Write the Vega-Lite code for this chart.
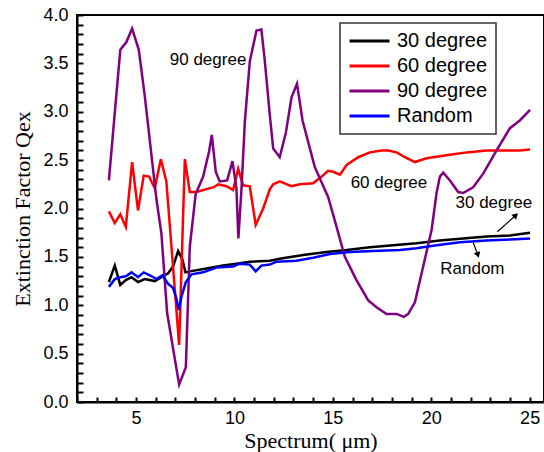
{
  "$schema": "https://vega.github.io/schema/vega-lite/v6.json",
  "width": 467,
  "height": 387,
  "autosize": {"type": "none"},
  "padding": {"left": 77, "top": 15, "right": 0, "bottom": 50},
  "background": "white",
  "config": {
    "view": {"stroke": "black", "strokeWidth": 2},
    "font": "Liberation Sans",
    "legend": {"strokeWidth": 1.5}
  },
  "datasets": {
    "series": [
      {"x": 3.62, "y": 1.24, "s": "30 degree"},
      {"x": 3.92, "y": 1.41, "s": "30 degree"},
      {"x": 4.2, "y": 1.21, "s": "30 degree"},
      {"x": 4.48, "y": 1.26, "s": "30 degree"},
      {"x": 4.77, "y": 1.29, "s": "30 degree"},
      {"x": 5.1, "y": 1.24, "s": "30 degree"},
      {"x": 5.44, "y": 1.27, "s": "30 degree"},
      {"x": 5.95, "y": 1.25, "s": "30 degree"},
      {"x": 6.29, "y": 1.29, "s": "30 degree"},
      {"x": 6.63, "y": 1.33, "s": "30 degree"},
      {"x": 6.88, "y": 1.4, "s": "30 degree"},
      {"x": 7.14, "y": 1.56, "s": "30 degree"},
      {"x": 7.36, "y": 1.47, "s": "30 degree"},
      {"x": 7.51, "y": 1.34, "s": "30 degree"},
      {"x": 7.73, "y": 1.35, "s": "30 degree"},
      {"x": 8.58, "y": 1.38, "s": "30 degree"},
      {"x": 9.42, "y": 1.41, "s": "30 degree"},
      {"x": 10.1, "y": 1.43, "s": "30 degree"},
      {"x": 10.78, "y": 1.45, "s": "30 degree"},
      {"x": 11.8, "y": 1.46, "s": "30 degree"},
      {"x": 12.3, "y": 1.48, "s": "30 degree"},
      {"x": 13.49, "y": 1.52, "s": "30 degree"},
      {"x": 14.68, "y": 1.55, "s": "30 degree"},
      {"x": 15.7, "y": 1.57, "s": "30 degree"},
      {"x": 16.88, "y": 1.6, "s": "30 degree"},
      {"x": 18.07, "y": 1.62, "s": "30 degree"},
      {"x": 19.25, "y": 1.64, "s": "30 degree"},
      {"x": 20.44, "y": 1.67, "s": "30 degree"},
      {"x": 21.62, "y": 1.69, "s": "30 degree"},
      {"x": 22.81, "y": 1.71, "s": "30 degree"},
      {"x": 24.0, "y": 1.72, "s": "30 degree"},
      {"x": 25.02, "y": 1.75, "s": "30 degree"},

      {"x": 3.62, "y": 1.97, "s": "60 degree"},
      {"x": 3.92, "y": 1.85, "s": "60 degree"},
      {"x": 4.2, "y": 1.94, "s": "60 degree"},
      {"x": 4.48, "y": 1.81, "s": "60 degree"},
      {"x": 4.8, "y": 2.48, "s": "60 degree"},
      {"x": 5.1, "y": 1.98, "s": "60 degree"},
      {"x": 5.39, "y": 2.34, "s": "60 degree"},
      {"x": 5.66, "y": 2.33, "s": "60 degree"},
      {"x": 5.95, "y": 2.21, "s": "60 degree"},
      {"x": 6.26, "y": 2.51, "s": "60 degree"},
      {"x": 6.54, "y": 2.28, "s": "60 degree"},
      {"x": 7.19, "y": 0.59, "s": "60 degree"},
      {"x": 7.48, "y": 2.51, "s": "60 degree"},
      {"x": 7.73, "y": 2.17, "s": "60 degree"},
      {"x": 8.07, "y": 2.17, "s": "60 degree"},
      {"x": 8.58, "y": 2.2, "s": "60 degree"},
      {"x": 8.95, "y": 2.22, "s": "60 degree"},
      {"x": 9.17, "y": 2.25, "s": "60 degree"},
      {"x": 9.6, "y": 2.23, "s": "60 degree"},
      {"x": 9.93, "y": 2.19, "s": "60 degree"},
      {"x": 10.19, "y": 2.41, "s": "60 degree"},
      {"x": 10.44, "y": 2.24, "s": "60 degree"},
      {"x": 10.78, "y": 2.23, "s": "60 degree"},
      {"x": 11.08, "y": 1.83, "s": "60 degree"},
      {"x": 11.46, "y": 2.0, "s": "60 degree"},
      {"x": 11.8, "y": 2.2, "s": "60 degree"},
      {"x": 11.97, "y": 2.25, "s": "60 degree"},
      {"x": 12.3, "y": 2.28, "s": "60 degree"},
      {"x": 12.9, "y": 2.23, "s": "60 degree"},
      {"x": 13.32, "y": 2.25, "s": "60 degree"},
      {"x": 14.0, "y": 2.26, "s": "60 degree"},
      {"x": 14.43, "y": 2.33, "s": "60 degree"},
      {"x": 14.76, "y": 2.39, "s": "60 degree"},
      {"x": 15.02, "y": 2.38, "s": "60 degree"},
      {"x": 15.36, "y": 2.35, "s": "60 degree"},
      {"x": 15.7, "y": 2.45, "s": "60 degree"},
      {"x": 16.29, "y": 2.53, "s": "60 degree"},
      {"x": 16.88, "y": 2.58, "s": "60 degree"},
      {"x": 17.48, "y": 2.6, "s": "60 degree"},
      {"x": 17.81, "y": 2.6, "s": "60 degree"},
      {"x": 18.24, "y": 2.58, "s": "60 degree"},
      {"x": 18.66, "y": 2.53, "s": "60 degree"},
      {"x": 19.17, "y": 2.48, "s": "60 degree"},
      {"x": 19.76, "y": 2.52, "s": "60 degree"},
      {"x": 20.44, "y": 2.54, "s": "60 degree"},
      {"x": 21.12, "y": 2.56, "s": "60 degree"},
      {"x": 21.8, "y": 2.58, "s": "60 degree"},
      {"x": 22.81, "y": 2.6, "s": "60 degree"},
      {"x": 23.83, "y": 2.6, "s": "60 degree"},
      {"x": 24.5, "y": 2.6, "s": "60 degree"},
      {"x": 25.02, "y": 2.61, "s": "60 degree"},

      {"x": 3.62, "y": 2.29, "s": "90 degree"},
      {"x": 4.2, "y": 3.64, "s": "90 degree"},
      {"x": 4.51, "y": 3.72, "s": "90 degree"},
      {"x": 4.8, "y": 3.86, "s": "90 degree"},
      {"x": 5.14, "y": 3.64, "s": "90 degree"},
      {"x": 5.44, "y": 3.17, "s": "90 degree"},
      {"x": 6.04, "y": 2.09, "s": "90 degree"},
      {"x": 6.29, "y": 1.74, "s": "90 degree"},
      {"x": 6.58, "y": 0.92, "s": "90 degree"},
      {"x": 7.19, "y": 0.18, "s": "90 degree"},
      {"x": 7.53, "y": 0.36, "s": "90 degree"},
      {"x": 7.73, "y": 1.6, "s": "90 degree"},
      {"x": 8.03, "y": 2.15, "s": "90 degree"},
      {"x": 8.41, "y": 2.33, "s": "90 degree"},
      {"x": 8.71, "y": 2.59, "s": "90 degree"},
      {"x": 8.85, "y": 2.76, "s": "90 degree"},
      {"x": 9.05, "y": 2.38, "s": "90 degree"},
      {"x": 9.25, "y": 2.28, "s": "90 degree"},
      {"x": 9.63, "y": 2.29, "s": "90 degree"},
      {"x": 9.9, "y": 2.49, "s": "90 degree"},
      {"x": 10.1, "y": 2.21, "s": "90 degree"},
      {"x": 10.2, "y": 1.69, "s": "90 degree"},
      {"x": 10.36, "y": 2.21, "s": "90 degree"},
      {"x": 10.53, "y": 2.9, "s": "90 degree"},
      {"x": 10.78, "y": 3.52, "s": "90 degree"},
      {"x": 11.12, "y": 3.84, "s": "90 degree"},
      {"x": 11.37, "y": 3.85, "s": "90 degree"},
      {"x": 11.54, "y": 3.53, "s": "90 degree"},
      {"x": 11.8, "y": 2.96, "s": "90 degree"},
      {"x": 11.97, "y": 2.62, "s": "90 degree"},
      {"x": 12.3, "y": 2.53, "s": "90 degree"},
      {"x": 12.61, "y": 2.78, "s": "90 degree"},
      {"x": 12.9, "y": 3.15, "s": "90 degree"},
      {"x": 13.18, "y": 3.29, "s": "90 degree"},
      {"x": 13.46, "y": 2.91, "s": "90 degree"},
      {"x": 14.08, "y": 2.43, "s": "90 degree"},
      {"x": 14.76, "y": 2.12, "s": "90 degree"},
      {"x": 15.19, "y": 1.81, "s": "90 degree"},
      {"x": 15.61, "y": 1.5, "s": "90 degree"},
      {"x": 16.2, "y": 1.26, "s": "90 degree"},
      {"x": 16.8, "y": 1.05, "s": "90 degree"},
      {"x": 17.22, "y": 0.98, "s": "90 degree"},
      {"x": 17.73, "y": 0.91, "s": "90 degree"},
      {"x": 18.24, "y": 0.91, "s": "90 degree"},
      {"x": 18.61, "y": 0.88, "s": "90 degree"},
      {"x": 18.83, "y": 0.91, "s": "90 degree"},
      {"x": 19.17, "y": 1.03, "s": "90 degree"},
      {"x": 19.59, "y": 1.4, "s": "90 degree"},
      {"x": 20.02, "y": 1.78, "s": "90 degree"},
      {"x": 20.27, "y": 2.16, "s": "90 degree"},
      {"x": 20.44, "y": 2.33, "s": "90 degree"},
      {"x": 20.61, "y": 2.37, "s": "90 degree"},
      {"x": 20.95, "y": 2.29, "s": "90 degree"},
      {"x": 21.37, "y": 2.17, "s": "90 degree"},
      {"x": 21.62, "y": 2.16, "s": "90 degree"},
      {"x": 22.13, "y": 2.22, "s": "90 degree"},
      {"x": 22.64, "y": 2.36, "s": "90 degree"},
      {"x": 23.32, "y": 2.6, "s": "90 degree"},
      {"x": 24.0, "y": 2.83, "s": "90 degree"},
      {"x": 24.5, "y": 2.91, "s": "90 degree"},
      {"x": 25.02, "y": 3.02, "s": "90 degree"},

      {"x": 3.62, "y": 1.19, "s": "Random"},
      {"x": 3.92, "y": 1.27, "s": "Random"},
      {"x": 4.2, "y": 1.29, "s": "Random"},
      {"x": 4.48, "y": 1.3, "s": "Random"},
      {"x": 4.77, "y": 1.34, "s": "Random"},
      {"x": 5.1, "y": 1.29, "s": "Random"},
      {"x": 5.39, "y": 1.34, "s": "Random"},
      {"x": 5.7, "y": 1.31, "s": "Random"},
      {"x": 6.04, "y": 1.27, "s": "Random"},
      {"x": 6.34, "y": 1.31, "s": "Random"},
      {"x": 6.63, "y": 1.22, "s": "Random"},
      {"x": 6.88, "y": 1.18, "s": "Random"},
      {"x": 7.05, "y": 1.07, "s": "Random"},
      {"x": 7.17, "y": 0.95, "s": "Random"},
      {"x": 7.31, "y": 1.09, "s": "Random"},
      {"x": 7.53, "y": 1.24, "s": "Random"},
      {"x": 7.82, "y": 1.32, "s": "Random"},
      {"x": 8.41, "y": 1.34, "s": "Random"},
      {"x": 9.09, "y": 1.39, "s": "Random"},
      {"x": 9.93, "y": 1.4, "s": "Random"},
      {"x": 10.27, "y": 1.43, "s": "Random"},
      {"x": 10.78, "y": 1.42, "s": "Random"},
      {"x": 11.08, "y": 1.35, "s": "Random"},
      {"x": 11.37, "y": 1.41, "s": "Random"},
      {"x": 11.8, "y": 1.42, "s": "Random"},
      {"x": 12.14, "y": 1.45, "s": "Random"},
      {"x": 13.15, "y": 1.46, "s": "Random"},
      {"x": 14.0, "y": 1.49, "s": "Random"},
      {"x": 14.85, "y": 1.53, "s": "Random"},
      {"x": 15.87, "y": 1.55, "s": "Random"},
      {"x": 17.05, "y": 1.56, "s": "Random"},
      {"x": 18.41, "y": 1.57, "s": "Random"},
      {"x": 19.25, "y": 1.59, "s": "Random"},
      {"x": 20.27, "y": 1.62, "s": "Random"},
      {"x": 21.46, "y": 1.65, "s": "Random"},
      {"x": 22.81, "y": 1.67, "s": "Random"},
      {"x": 24.0, "y": 1.68, "s": "Random"},
      {"x": 25.02, "y": 1.69, "s": "Random"}
    ],
    "notes": [
      {"x": 8.66, "y": 3.53, "label": "90 degree"},
      {"x": 17.85, "y": 2.26, "label": "60 degree"},
      {"x": 23.18, "y": 2.06, "label": "30 degree"},
      {"x": 22.09, "y": 1.37, "label": "Random"}
    ],
    "arrows": [
      {"id": "a30", "x": 23.36, "y": 1.76, "x2": 24.3, "y2": 1.93},
      {"id": "aR", "x": 22.13, "y": 1.65, "x2": 22.37, "y2": 1.52}
    ]
  },
  "encoding": {
    "x": {
      "field": "x",
      "type": "quantitative",
      "scale": {"domain": [2, 25.73], "nice": false, "zero": false},
      "axis": {
        "values": [2,3,4,5,6,7,8,9,10,11,12,13,14,15,16,17,18,19,20,21,22,23,24,25],
        "labelExpr": "datum.value % 5 == 0 ? datum.label : ''",
        "format": "d",
        "grid": false,
        "ticks": true,
        "zindex": 1,
        "domainColor": "black",
        "domainWidth": 2,
        "tickColor": "#000000",
        "tickOpacity": 1,
        "tickWidth": 2,
        "tickSize": -5,
        "labelFont": "Liberation Sans",
        "labelFontSize": 18,
        "labelColor": "black",
        "labelPadding": 12,
        "title": "Spectrum( μm)",
        "titleFont": "Liberation Serif",
        "titleFontSize": 22,
        "titleFontWeight": "normal",
        "titleColor": "black",
        "titlePadding": 3
      }
    },
    "y": {
      "field": "y",
      "type": "quantitative",
      "scale": {"domain": [0, 4], "nice": false, "zero": false},
      "axis": {
        "values": [0,0.1,0.2,0.3,0.4,0.5,0.6,0.7,0.8,0.9,1,1.1,1.2,1.3,1.4,1.5,1.6,1.7,1.8,1.9,2,2.1,2.2,2.3,2.4,2.5,2.6,2.7,2.8,2.9,3,3.1,3.2,3.3,3.4,3.5,3.6,3.7,3.8,3.9,4],
        "labelExpr": "abs(datum.value*2 - round(datum.value*2)) < 0.001 ? format(datum.value, '.1f') : ''",
        "grid": false,
        "ticks": true,
        "zindex": 1,
        "domainColor": "black",
        "domainWidth": 2,
        "tickColor": "#000000",
        "tickOpacity": 1,
        "tickWidth": 2,
        "tickSize": -6,
        "labelFont": "Liberation Sans",
        "labelFontSize": 18,
        "labelColor": "black",
        "labelPadding": 15,
        "title": "Extinction Factor Qex",
        "titleFont": "Liberation Serif",
        "titleFontSize": 22,
        "titleFontWeight": "normal",
        "titleColor": "black",
        "titlePadding": 8
      }
    }
  },
  "layer": [
    {
      "data": {"name": "series"},
      "mark": {"type": "line", "strokeWidth": 2.5},
      "encoding": {
        "color": {
          "field": "s",
          "type": "nominal",
          "scale": {
            "domain": ["30 degree", "60 degree", "90 degree", "Random"],
            "range": ["#000000", "#ff0000", "#800080", "#0000ff"]
          },
          "legend": {
            "orient": "none",
            "legendX": 263,
            "legendY": 8,
            "title": null,
            "symbolType": "stroke",
            "symbolSize": 1600,
            "symbolStrokeWidth": 3,
            "labelFont": "Liberation Sans",
            "labelFontSize": 20,
            "labelColor": "black",
            "labelOffset": 6,
            "clipHeight": 20,
            "rowPadding": 5,
            "padding": 8,
            "strokeColor": "#333333",
            "fillColor": "white"
          }
        }
      }
    },
    {
      "data": {"name": "notes"},
      "mark": {"type": "text", "font": "Liberation Sans", "fontSize": 17, "color": "black", "align": "center", "baseline": "middle"},
      "encoding": {"text": {"field": "label"}}
    },
    {
      "data": {"name": "arrows"},
      "mark": {"type": "rule", "color": "black", "strokeWidth": 1.2},
      "encoding": {"x2": {"field": "x2"}, "y2": {"field": "y2"}}
    },
    {
      "data": {"name": "arrows"},
      "transform": [{"filter": "datum.id == 'a30'"}],
      "mark": {"type": "point", "shape": "triangle-up", "filled": true, "color": "black", "size": 45, "angle": 47, "opacity": 1},
      "encoding": {
        "x": {"field": "x2", "type": "quantitative"},
        "y": {"field": "y2", "type": "quantitative"}
      }
    },
    {
      "data": {"name": "arrows"},
      "transform": [{"filter": "datum.id == 'aR'"}],
      "mark": {"type": "point", "shape": "triangle-up", "filled": true, "color": "black", "size": 45, "angle": 162, "opacity": 1},
      "encoding": {
        "x": {"field": "x2", "type": "quantitative"},
        "y": {"field": "y2", "type": "quantitative"}
      }
    }
  ]
}
